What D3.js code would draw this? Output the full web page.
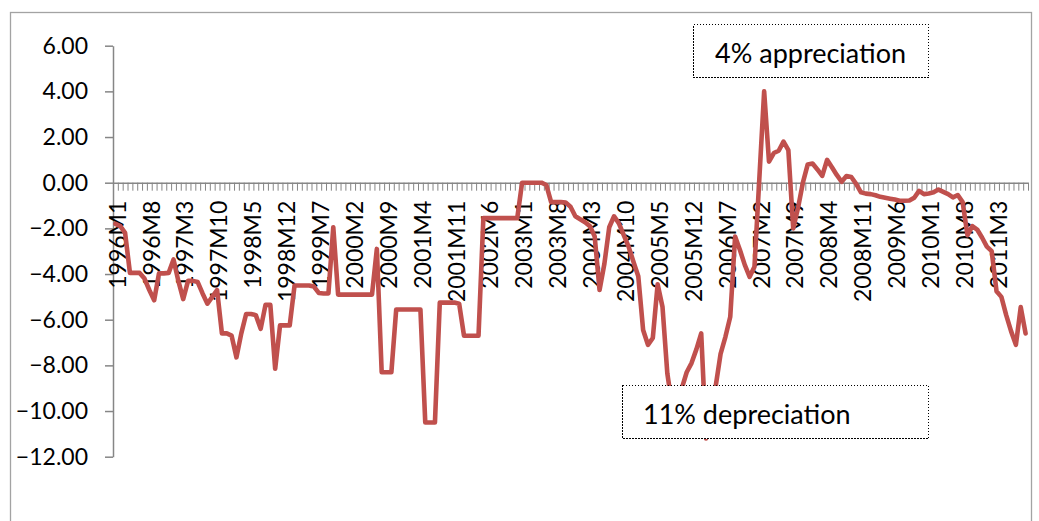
<!DOCTYPE html>
<html>
<head>
<meta charset="utf-8">
<script src="https://cdn.jsdelivr.net/npm/d3@7"></script>
<style>
  html, body { margin: 0; padding: 0; background: #ffffff; }
  svg { display: block; }
  text { font-family: Lato, "Open Sans", sans-serif; fill: #000; }
</style>
</head>
<body>
<svg id="chart" width="1039" height="521"></svg>
<script>
// Monthly series, 1996M1 .. 2011M9 (percent change)
const startYear = 1996;
const monthCount = 189;
const categories = d3.range(monthCount).map(i => `${startYear + Math.floor(i / 12)}M${(i % 12) + 1}`);

const values = [
  -1.80, -1.90, -2.20, -3.95, -3.95, -3.95, -4.20, -4.70, -5.15, -3.97, -3.97, -3.95,
  -3.36, -4.30, -5.10, -4.30, -4.30, -4.35, -4.85, -5.30, -5.00, -4.70, -6.60, -6.60,
  -6.70, -7.65, -6.60, -5.75, -5.75, -5.80, -6.40, -5.35, -5.35, -8.15, -6.25, -6.25,
  -6.25, -4.50, -4.50, -4.50, -4.50, -4.55, -4.83, -4.85, -4.85, -1.95, -4.90, -4.90,
  -4.90, -4.90, -4.90, -4.90, -4.90, -4.90, -2.90, -8.30, -8.30, -8.30, -5.55, -5.55,
  -5.55, -5.55, -5.55, -5.55, -10.50, -10.50, -10.50, -5.25, -5.25, -5.25, -5.25, -5.30,
  -6.70, -6.70, -6.70, -6.70, -1.55, -1.55, -1.55, -1.55, -1.55, -1.55, -1.55, -1.55,
  0.00, 0.00, 0.00, 0.00, 0.00, -0.10, -0.85, -0.85, -0.85, -0.87, -1.05, -1.47,
  -1.60, -1.73, -1.90, -2.36, -4.70, -3.55, -1.95, -1.47, -1.78, -2.30, -2.80, -3.46,
  -4.10, -6.45, -7.10, -6.80, -4.45, -5.43, -8.35, -9.80, -9.60, -9.00, -8.30, -7.90,
  -7.30, -6.60, -11.20, -10.00, -8.90, -7.50, -6.75, -5.87, -2.36, -2.95, -3.60, -4.12,
  -3.68, 0.16, 4.00, 0.92, 1.30, 1.40, 1.80, 1.43, -2.00, -1.10, 0.00, 0.80,
  0.84, 0.58, 0.30, 1.00, 0.68, 0.34, 0.04, 0.29, 0.25, -0.05, -0.42, -0.48,
  -0.50, -0.55, -0.62, -0.66, -0.70, -0.74, -0.79, -0.79, -0.78, -0.66, -0.36, -0.50,
  -0.47, -0.42, -0.30, -0.40, -0.50, -0.64, -0.54, -0.85, -2.30, -1.90, -2.05, -2.40,
  -2.80, -3.00, -4.75, -5.00, -5.80, -6.50, -7.10, -5.45, -6.60
];

// Every seventh month carries a label
const xTickLabels = [
  "1996M1", "1996M8", "1997M3", "1997M10", "1998M5", "1998M12", "1999M7",
  "2000M2", "2000M9", "2001M4", "2001M11", "2002M6", "2003M1", "2003M8",
  "2004M3", "2004M10", "2005M5", "2005M12", "2006M7", "2007M2", "2007M9",
  "2008M4", "2008M11", "2009M6", "2010M1", "2010M8", "2011M3"
];
const yTickValues = [-12, -10, -8, -6, -4, -2, 0, 2, 4, 6];

const annotations = [
  { text: "4% appreciation" },
  { text: "11% depreciation" }
];

const svg = d3.select("#chart");

// chart area frame
svg.append("rect")
  .attr("x", 10.5).attr("y", 12.5)
  .attr("width", 1021).attr("height", 560)
  .attr("fill", "#ffffff")
  .attr("stroke", "#a3a3a3")
  .attr("stroke-width", 1.3);

const plot = { left: 113, right: 1028, top: 45.7, bottom: 456.7 };

const x = d3.scaleBand().domain(categories).range([plot.left, plot.right]).padding(0);
const xIdx = d3.scaleLinear().domain([0, monthCount]).range([plot.left, plot.right]);
const y = d3.scaleLinear().domain([-12, 6]).range([plot.bottom, plot.top]);
const cx = c => x(c) + x.bandwidth() / 2;

const axisColor = "#868686";

// value axis
const yAxis = svg.append("g")
  .attr("transform", `translate(${plot.left},0)`)
  .call(d3.axisLeft(y).tickValues(yTickValues).tickFormat(d3.format(".2f"))
    .tickSize(8).tickSizeOuter(0).tickPadding(17));
yAxis.select(".domain").attr("stroke", axisColor).attr("stroke-width", 1.5);
yAxis.selectAll(".tick line").attr("stroke", axisColor).attr("stroke-width", 1.5);
yAxis.selectAll(".tick text")
  .style("font-size", "23px")
  .style("font-family", "Lato, 'Open Sans', sans-serif")
  .attr("fill", "#000");

// category axis crossing at zero, one tick per month
const xAxis = svg.append("g")
  .attr("transform", `translate(0,${y(0)})`)
  .call(d3.axisBottom(xIdx).tickValues(d3.range(monthCount + 1)).tickFormat("")
    .tickSize(8).tickSizeOuter(0));
xAxis.select(".domain").attr("stroke", axisColor).attr("stroke-width", 1.5);
xAxis.selectAll(".tick line").attr("stroke", axisColor).attr("stroke-width", 1);

// rotated month labels
svg.append("g")
  .selectAll("text")
  .data(xTickLabels)
  .join("text")
  .attr("transform", d => `translate(${cx(d) + 2},${y(0) + 18}) rotate(-90)`)
  .attr("text-anchor", "end")
  .attr("dy", "0.36em")
  .style("font-size", "23px")
  .text(d => d);

// series line
const line = d3.line()
  .x((d, i) => cx(categories[i]))
  .y(d => y(d));

svg.append("path")
  .datum(values)
  .attr("fill", "none")
  .attr("stroke", "#C0504D")
  .attr("stroke-width", 4.6)
  .attr("stroke-linejoin", "round")
  .attr("stroke-linecap", "round")
  .attr("d", line);

// text boxes
const boxes = [
  { x: 693.5, y: 24.5, w: 235, h: 53, tx: 715, ty: 62.5 },
  { x: 622.5, y: 385.5, w: 306, h: 53, tx: 643, ty: 423.5 }
];
const notes = svg.append("g");
boxes.forEach((b, k) => {
  notes.append("rect")
    .attr("x", b.x).attr("y", b.y)
    .attr("width", b.w).attr("height", b.h)
    .attr("fill", "#ffffff")
    .attr("stroke", "#000")
    .attr("stroke-width", 1.2)
    .attr("stroke-dasharray", "1.5,1.5")
    .attr("shape-rendering", "crispEdges");
  notes.append("text")
    .attr("x", b.tx).attr("y", b.ty)
    .style("font-size", "27px")
    .text(annotations[k].text);
});
</script>
</body>
</html>
